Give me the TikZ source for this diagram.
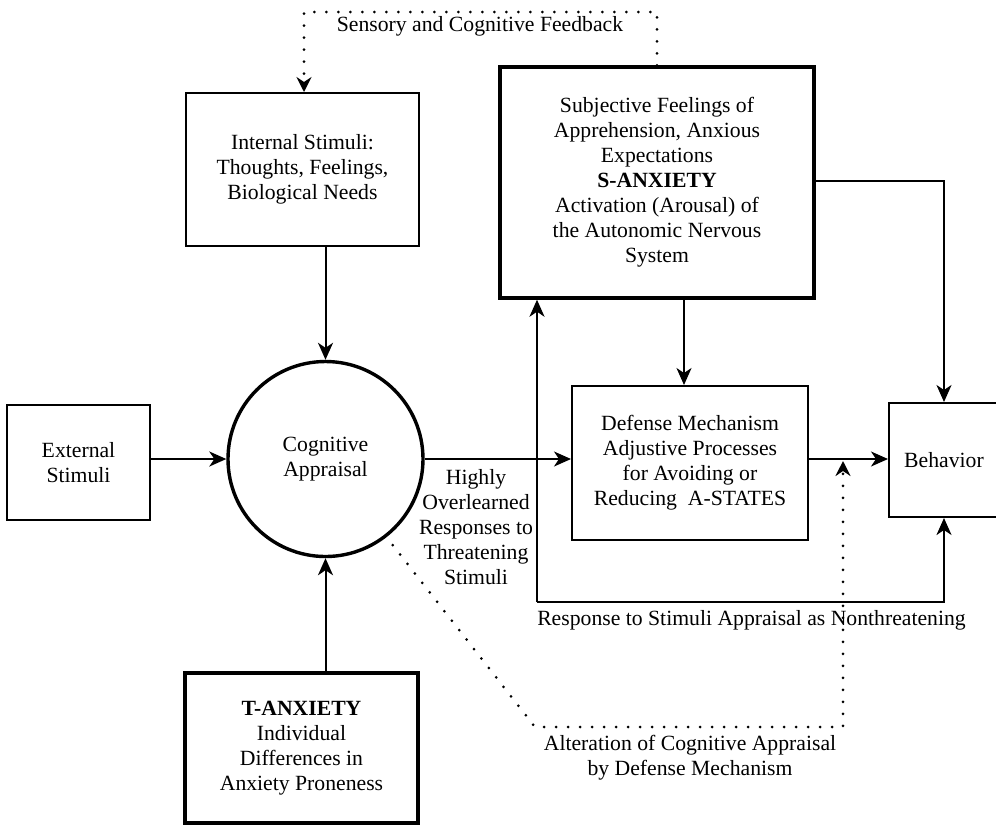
\documentclass[tikz,border=0pt]{standalone}
\usepackage{fontspec}
\setmainfont{Liberation Serif}
\usetikzlibrary{arrows.meta}

\begin{document}
\begin{tikzpicture}[x=0.5pt,y=-0.5pt,
  every node/.style={font=\fontsize{10.85}{12.5}\selectfont, align=center, inner sep=0pt},
  thinbox/.style={draw, line width=1pt, rectangle},
  thickbox/.style={draw, line width=1.7pt, rectangle},
  arr/.style={-{Stealth[length=8.5pt,width=7.5pt,inset=2.5pt]}, line width=1pt},
  dotline/.style={line width=1.5pt, line cap=round, dash pattern=on 0pt off 6pt},
  dotarr/.style={dotline, -{Stealth[length=7.5pt,width=7.5pt,inset=2.5pt]}},
  label/.style={fill=none}]
\useasboundingbox (0,0) rectangle (996,827);

% boxes
\node[thinbox, minimum width=116.5pt, minimum height=76.5pt] (int) at (302.5,169.5)
  {Internal Stimuli:\\Thoughts, Feelings,\\Biological Needs};
\node[thickbox, minimum width=157pt, minimum height=115.5pt] (sanx) at (657,182.5)
  {Subjective Feelings of\\Apprehension, Anxious\\Expectations\\\textbf{S-ANXIETY}\\Activation (Arousal) of\\the Autonomic Nervous\\System};
\node[thinbox, minimum width=71.5pt, minimum height=57.5pt] (ext) at (78.5,462.5)
  {External\\Stimuli};
\node[draw, circle, line width=1.7pt, minimum size=97.5pt] (cog) at (325.5,459)
  {Cognitive\\Appraisal};
\node[thinbox, minimum width=118pt, minimum height=77pt] (def) at (690,463)
  {Defense Mechanism\\Adjustive Processes\\for Avoiding or\\Reducing\enspace A-STATES};
\node[thinbox, minimum width=55pt, minimum height=57pt] (beh) at (944,460)
  {Behavior};
\node[thickbox, minimum width=116.5pt, minimum height=75pt] (tanx) at (301.5,748)
  {\textbf{T-ANXIETY}\\Individual\\Differences in\\Anxiety Proneness};

% labels
\node[label] (fb) at (480,26) {Sensory and Cognitive Feedback};
\node[label] (hor) at (476,527) {Highly\\Overlearned\\Responses to\\Threatening\\Stimuli};
\node[label] (nt) at (751.5,620) {Response to Stimuli Appraisal as Nonthreatening};
\node[label] (alt) at (690,758) {Alteration of Cognitive Appraisal\\by Defense Mechanism};

% routing points
\coordinate (fbR) at (657,12);
\coordinate (fbL) at (304,12);
\coordinate (sb) at (944,181);
\coordinate (br) at (537,602);
\coordinate (ac) at (535,727);
\coordinate (ar) at (843,727);

% solid connectors
\draw[arr] (cog.north |- int.south) -- (cog.north);
\draw[arr] (ext.east |- cog.west) -- (cog.west);
\draw[arr] (cog.east) -- (def.west |- cog.east);
\draw[arr] (def.east |- cog.east) -- (beh.west |- cog.east);
\draw[arr] ([xshift=-3pt]def.north |- sanx.south) -- ([xshift=-3pt]def.north);
\draw[arr] (sanx.east |- sb) -- (sb) -- (sb |- beh.north);
\draw[arr] (cog.north |- tanx.north) -- (cog.south);
\draw[arr] (br) -- (br |- sanx.south);
\draw[arr] (br) -- (br -| sb) -- (sb |- beh.south);

% dotted feedback paths
\draw[dotarr] (sanx.north -| fbR) -- (fbR) -- (fbL) -- (fbL |- int.north);
\draw[dotarr, shorten <=5pt] (cog.-52) -- (ac) -- (ar) -- ([yshift=1pt]ar |- def.east);
\end{tikzpicture}
\end{document}
